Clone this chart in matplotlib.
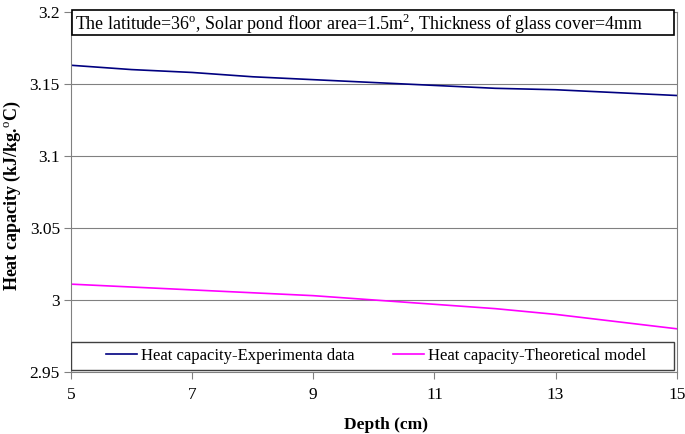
import matplotlib
matplotlib.use('Agg')
import matplotlib.pyplot as plt
from matplotlib.patches import Rectangle

# ── data ──────────────────────────────────────────────────
depth = [5, 6, 7, 8, 9, 10, 11, 12, 13, 14, 15]
hc_exp = [3.163, 3.160, 3.158, 3.155, 3.153, 3.151, 3.149, 3.147, 3.146, 3.144, 3.142]
hc_theory = [3.011, 3.009, 3.007, 3.005, 3.003, 3.000, 2.997, 2.994, 2.990, 2.985, 2.980]
xticks = [5, 7, 9, 11, 13, 15]
yticks = [2.95, 3.0, 3.05, 3.1, 3.15, 3.2]
ytick_labels = ['2.95', '3', '3.05', '3.1', '3.15', '3.2']

plt.rcParams['font.family'] = ['Liberation Serif', 'DejaVu Serif']
plt.rcParams['mathtext.fontset'] = 'custom'
plt.rcParams['mathtext.rm'] = 'Liberation Serif'

fig = plt.figure(figsize=(6.85, 4.34), dpi=100)
ax = fig.add_axes([0.1036, 0.1429, 0.8844, 0.8295])

ax.plot(depth, hc_exp, color='#000080', lw=1.2, label='Heat capacity-Experimenta data')
ax.plot(depth, hc_theory, color='#FF00FF', lw=1.2, label='Heat capacity-Theoretical model')

ax.set_xlim(5, 15)
ax.set_ylim(2.95, 3.2)
ax.set_xticks(xticks)
ax.set_yticks(yticks)
ax.set_yticklabels(ytick_labels)
ax.tick_params(labelsize=12.5, direction='out', length=5, color='#808080', pad=3)
ax.tick_params(axis='x', pad=6)
ax.grid(axis='y', color='#808080', lw=0.8)
for s in ax.spines.values():
    s.set_color('#808080')

ax.set_xlabel('Depth (cm)', fontsize=12.5, fontweight='bold')
ax.xaxis.set_label_coords(0.52, -0.125)
ax.set_ylabel('Heat capacity (kJ/kg.$^{\\mathrm{o}}$C)', fontsize=13, fontweight='bold')
ax.yaxis.set_label_coords(-0.08, 0.49)

# title box at the top of the plot area
ax.add_patch(Rectangle((0.002, 0.936), 0.993, 0.07, transform=ax.transAxes, clip_on=False,
                       facecolor='white', edgecolor='black', lw=1.2, zorder=5))
ax.text(0.006, 0.968, 'The latitude=36$^{\\mathrm{o}}$, Solar pond floor area=1.5m$^{2}$, '
        'Thickness of glass cover=4mm', transform=ax.transAxes, fontsize=12.9,
        va='center', ha='left', zorder=6)

# legend box along the bottom
ax.add_patch(Rectangle((0.0, 0.006), 0.996, 0.078, transform=ax.transAxes,
                       facecolor='white', edgecolor='#404040', lw=1.0, zorder=5))
leg = ax.legend(loc='center', bbox_to_anchor=(0.503, 0.045), ncol=2, fontsize=12,
                frameon=False, handlelength=1.9, handletextpad=0.2,
                columnspacing=2.3, borderaxespad=0)
leg.set_zorder(6)

fig.savefig('out.png', dpi=100)
